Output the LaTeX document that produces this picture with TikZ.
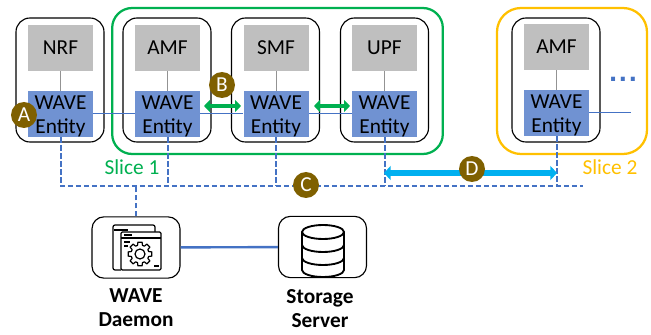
\documentclass[tikz,border=0pt]{standalone}
\usepackage{fontspec}
\setmainfont{Carlito}
\newfontfamily\dotfont{DejaVu Sans}
\usetikzlibrary{arrows.meta}

\definecolor{entityblue}{HTML}{7092D2}
\definecolor{linkblue}{HTML}{4472C4}
\definecolor{boxgray}{HTML}{BFBFBF}
\definecolor{slicegreen}{HTML}{00B050}
\definecolor{sliceyellow}{HTML}{FFC000}
\definecolor{badgebrown}{HTML}{7F6000}
\definecolor{syncblue}{HTML}{00B0F0}

\newcommand{\waveentity}{\rule{0pt}{14pt}WAVE\\Entity}

\tikzset{
    funcbox/.style={draw=black, line width=0.85pt, rounded corners=10.5pt, minimum width=66pt, minimum height=93pt, inner sep=0pt},
    servicebox/.style={fill=boxgray, minimum width=48.75pt, minimum height=34.5pt, inner sep=0pt, font=\fontsize{16}{16}\selectfont},
    entitybox/.style={fill=entityblue, minimum width=48.75pt, minimum height=34.5pt, inner sep=0pt, align=center, font=\fontsize{16}{18}\selectfont},
    slicebox/.style={line width=1.7pt, rounded corners=15pt, minimum height=109.5pt, inner sep=0pt},
    hostbox/.style={draw=black, line width=0.85pt, rounded corners=9pt, minimum width=66pt, minimum height=46pt, inner sep=0pt},
    badge/.style={circle, fill=badgebrown, text=white, minimum size=19.5pt, inner sep=0pt, font=\fontsize{16}{16}\selectfont},
    hostlabel/.style={align=center, font=\fontsize{16}{18}\selectfont\bfseries},
    slicelabel/.style={font=\fontsize{16}{16}\selectfont},
    stemline/.style={draw=gray!85, line width=0.75pt},
    meshline/.style={draw=linkblue, line width=0.75pt},
    busline/.style={draw=linkblue, line width=1.5pt, dash pattern=on 4pt off 2pt},
    greenarrow/.style={draw=slicegreen, line width=3.6pt, {Triangle[width=9pt,length=4.5pt]}-{Triangle[width=9pt,length=4.5pt]}},
    bluearrow/.style={draw=syncblue, line width=4.5pt, {Triangle[width=10.5pt,length=5pt]}-{Triangle[width=10.5pt,length=5pt]}},
    iconline/.style={draw=black, line width=0.9pt, line join=round}
}

\begin{document}
\begin{tikzpicture}[x=0.75pt, y=-0.75pt]
    \useasboundingbox (0,0) rectangle (651,335);

    \node[slicebox, draw=slicegreen, minimum width=248pt] (slicea) at (277.5,81) {};
    \node[slicebox, draw=sliceyellow, minimum width=112.5pt, rounded corners=18pt] (sliceb) at (572,81) {};

    \node[funcbox] (nrfbox) at (60,80) {};
    \node[funcbox] (amfbox) at (167,80) {};
    \node[funcbox] (smfbox) at (275.5,80) {};
    \node[funcbox] (upfbox) at (384.5,80) {};
    \node[funcbox] (amfboxb) at (556,80) {};

    \node[servicebox] (nrf) at (60.5,48) {NRF};
    \node[servicebox] (amf) at (167.5,48) {AMF};
    \node[servicebox] (smf) at (276,48) {SMF};
    \node[servicebox] (upf) at (384.5,48) {UPF};
    \node[servicebox] (amfb) at (556.5,47) {AMF};

    \node[entitybox] (nrfent) at (60.5,114) {\waveentity};
    \node[entitybox] (amfent) at (167.5,114) {\waveentity};
    \node[entitybox] (smfent) at (276,114) {\waveentity};
    \node[entitybox] (upfent) at (384.5,114) {\waveentity};
    \node[entitybox] (amfentb) at (556.5,113) {\waveentity};

    \draw[stemline] (nrf) -- (nrfent);
    \draw[stemline] (amf) -- (amfent);
    \draw[stemline] (smf) -- (smfent);
    \draw[stemline] (upf) -- (upfent);
    \draw[stemline] (amfb) -- (amfentb);

    \coordinate (meshend) at (631,113);
    \draw[meshline] (nrfent) -- (amfent);
    \draw[meshline] (amfent) -- (smfent);
    \draw[meshline] (smfent) -- (upfent);
    \draw[meshline] (amfentb.east |- meshend) -- (meshend);

    \node[hostbox] (daemon) at (136,247.5) {};
    \node[hostbox] (storage) at (322.5,247) {};
    \node[hostlabel] (daemontext) at (136,308) {WAVE\\Daemon};
    \node[hostlabel] (storagetext) at (320,309) {Storage\\Server};

    \coordinate (busend) at (583,186);
    \draw[busline] (nrfent.south) |- (busend);
    \draw[busline] (amfent.south) -- (amfent.south |- busend);
    \draw[busline] (smfent.south) -- (smfent.south |- busend);
    \draw[busline] (upfent.south) -- (upfent.south |- busend);
    \draw[busline] (amfentb.south) -- (amfentb.south |- busend);
    \draw[busline] (daemon.north) -- (daemon.north |- busend);
    \draw[draw=linkblue, line width=1.8pt] (daemon) -- (storage);

    \coordinate (syncleft) at (384,173);
    \coordinate (syncright) at (557,173);
    \draw[greenarrow] (204,106) coordinate (ba) -- (241,106) coordinate (bb);
    \draw[greenarrow] (314,106) coordinate (bc) -- (350,106) coordinate (bd);
    \draw[bluearrow] (syncleft) -- (syncright);

    \node[badge] (marka) at (24,115) {A};
    \node[badge] (markb) at (222,85) {B};
    \node[badge] (markc) at (306,185) {C};
    \node[badge] (markd) at (472,169) {D};

    \node[slicelabel, text=slicegreen] (sliceatext) at (132,167) {Slice 1};
    \node[slicelabel, text=sliceyellow] (slicebtext) at (610,167) {Slice 2};
    \node[text=linkblue, inner sep=0pt, font=\dotfont\fontsize{17}{17}\selectfont\bfseries] (moredots) at (623,79) {.\kern 1pt.\kern 1pt.};

    \draw[iconline, rounded corners=1.5pt] (121,270) -- (113,270) -- (113,225) -- (155,225) -- (155,232);
    \draw[iconline, fill=white, rounded corners=1pt] (121,232) rectangle (161,270);
    \draw[iconline] (121,238) -- (161,238);
    \draw[iconline] (114,230) -- (128,230);
    \draw[iconline] (124,235) -- (132,235);
    \draw[iconline] (124,242) -- (130,242);
    \draw[iconline] (124,246) -- (128,246);
    \draw[iconline] (154,266) -- (159,266);
    \draw[iconline, shift={(140,254)}] (-16:9) \foreach \a in {0,45,...,315} { -- (\a-16:9) -- (\a-10:12) -- (\a+10:12) -- (\a+16:9) } -- cycle;
    \draw[iconline] (140,254) circle (5);

    \draw[iconline, line width=1.4pt] (302,232) -- (302,270) arc (180:0:21 and 7) -- (344,232);
    \draw[iconline, line width=1.4pt] (323,232) ellipse (21 and 7);
    \draw[iconline, line width=1.4pt] (302,245) arc (180:0:21 and 7);
    \draw[iconline, line width=1.4pt] (302,258) arc (180:0:21 and 7);
\end{tikzpicture}
\end{document}
